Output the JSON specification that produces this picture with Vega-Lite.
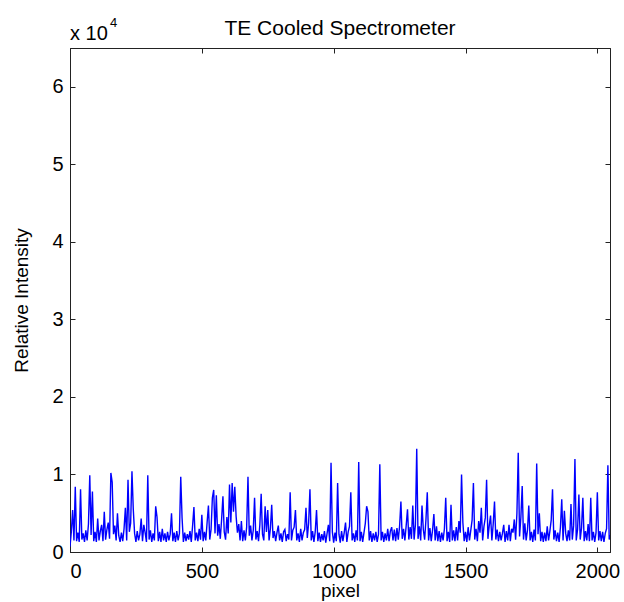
{
  "$schema": "https://vega.github.io/schema/vega-lite/v6.json",
  "width": 540,
  "height": 504,
  "autosize": {"type": "none"},
  "padding": {"left": 70, "top": 48, "right": 14, "bottom": 50},
  "background": "white",
  "config": {
    "view": {"stroke": "#222222", "strokeWidth": 1},
    "font": "Liberation Sans",
    "axis": {
      "domainColor": "#222222",
      "domainWidth": 1,
      "tickColor": "#222222",
      "tickWidth": 1,
      "tickSize": -5,
      "grid": false,
      "labelFont": "Liberation Sans",
      "labelFontSize": 20,
      "labelColor": "#000000",
      "titleFont": "Liberation Sans",
      "titleFontWeight": "normal",
      "titleColor": "#000000"
    }
  },
  "datasets": {
    "s": [
      {"p":0,"v":700},{"p":5,"v":2600},{"p":10,"v":5400},{"p":15,"v":1500},{"p":20,"v":8400},{"p":25,"v":1400},{"p":30,"v":2500},{"p":35,"v":1300},{"p":40,"v":8100},{"p":45,"v":1600},
      {"p":50,"v":2400},{"p":55,"v":1300},{"p":60,"v":2800},{"p":65,"v":1500},{"p":70,"v":3600},{"p":75,"v":9900},{"p":80,"v":2200},{"p":85,"v":7800},{"p":90,"v":1400},{"p":95,"v":2600},
      {"p":100,"v":1300},{"p":105,"v":4300},{"p":110,"v":1500},{"p":115,"v":2700},{"p":120,"v":3500},{"p":125,"v":1400},{"p":130,"v":5200},{"p":135,"v":1600},{"p":140,"v":2900},{"p":145,"v":3800},
      {"p":150,"v":1700},{"p":155,"v":10200},{"p":160,"v":9000},{"p":165,"v":2300},{"p":170,"v":3400},{"p":175,"v":1500},{"p":180,"v":5000},{"p":185,"v":2100},{"p":190,"v":1300},{"p":195,"v":2500},
      {"p":200,"v":1400},{"p":205,"v":3000},{"p":210,"v":5700},{"p":215,"v":1500},{"p":220,"v":9300},{"p":225,"v":2600},{"p":230,"v":3700},{"p":235,"v":10400},{"p":240,"v":5500},{"p":245,"v":2400},
      {"p":250,"v":1300},{"p":255,"v":2700},{"p":260,"v":1500},{"p":265,"v":2300},{"p":270,"v":4300},{"p":275,"v":1400},{"p":280,"v":3500},{"p":285,"v":2500},{"p":290,"v":1300},{"p":295,"v":9900},
      {"p":300,"v":1600},{"p":305,"v":2800},{"p":310,"v":1300},{"p":315,"v":2400},{"p":320,"v":1500},{"p":325,"v":5900},{"p":330,"v":4500},{"p":335,"v":1400},{"p":340,"v":2600},{"p":345,"v":1300},
      {"p":350,"v":3000},{"p":355,"v":1500},{"p":360,"v":2400},{"p":365,"v":1300},{"p":370,"v":2600},{"p":375,"v":1500},{"p":380,"v":2300},{"p":385,"v":5000},{"p":390,"v":1400},{"p":395,"v":2500},
      {"p":400,"v":1300},{"p":405,"v":2700},{"p":410,"v":1500},{"p":415,"v":2400},{"p":420,"v":9700},{"p":425,"v":4400},{"p":430,"v":1300},{"p":435,"v":2500},{"p":440,"v":1400},{"p":445,"v":2300},
      {"p":450,"v":1600},{"p":455,"v":2700},{"p":460,"v":1300},{"p":465,"v":3400},{"p":470,"v":5800},{"p":475,"v":1500},{"p":480,"v":2500},{"p":485,"v":1400},{"p":490,"v":3000},{"p":495,"v":1600},
      {"p":500,"v":4800},{"p":505,"v":1400},{"p":510,"v":2600},{"p":515,"v":1500},{"p":520,"v":3800},{"p":525,"v":6000},{"p":530,"v":1600},{"p":535,"v":2900},{"p":540,"v":7000},{"p":545,"v":8000},
      {"p":550,"v":2400},{"p":555,"v":7300},{"p":560,"v":2100},{"p":565,"v":3600},{"p":570,"v":1700},{"p":575,"v":4200},{"p":580,"v":7200},{"p":585,"v":2600},{"p":590,"v":1600},{"p":595,"v":4500},
      {"p":600,"v":2400},{"p":605,"v":8700},{"p":610,"v":3800},{"p":615,"v":8900},{"p":620,"v":5200},{"p":625,"v":8400},{"p":630,"v":4600},{"p":635,"v":2500},{"p":640,"v":3600},{"p":645,"v":1500},
      {"p":650,"v":4000},{"p":655,"v":1400},{"p":660,"v":2800},{"p":665,"v":1500},{"p":670,"v":3200},{"p":675,"v":9700},{"p":680,"v":2100},{"p":685,"v":3400},{"p":690,"v":1500},{"p":695,"v":2800},
      {"p":700,"v":7000},{"p":705,"v":1600},{"p":710,"v":2700},{"p":715,"v":1400},{"p":720,"v":3500},{"p":725,"v":7500},{"p":730,"v":2300},{"p":735,"v":1500},{"p":740,"v":5900},{"p":745,"v":2600},
      {"p":750,"v":5400},{"p":755,"v":1500},{"p":760,"v":3000},{"p":765,"v":6100},{"p":770,"v":1800},{"p":775,"v":2700},{"p":780,"v":1400},{"p":785,"v":2500},{"p":790,"v":3400},{"p":795,"v":1500},
      {"p":800,"v":2400},{"p":805,"v":1300},{"p":810,"v":2600},{"p":815,"v":2900},{"p":820,"v":1400},{"p":825,"v":2300},{"p":830,"v":1600},{"p":835,"v":7700},{"p":840,"v":1500},{"p":845,"v":2800},
      {"p":850,"v":3200},{"p":855,"v":5400},{"p":860,"v":1500},{"p":865,"v":2400},{"p":870,"v":1300},{"p":875,"v":3000},{"p":880,"v":1500},{"p":885,"v":2500},{"p":890,"v":2900},{"p":895,"v":5700},
      {"p":900,"v":1800},{"p":905,"v":3700},{"p":910,"v":8100},{"p":915,"v":1500},{"p":920,"v":2700},{"p":925,"v":1300},{"p":930,"v":2600},{"p":935,"v":5400},{"p":940,"v":1400},{"p":945,"v":2500},
      {"p":950,"v":1300},{"p":955,"v":2300},{"p":960,"v":1500},{"p":965,"v":2700},{"p":970,"v":1200},{"p":975,"v":2400},{"p":980,"v":3500},{"p":985,"v":1400},{"p":990,"v":11500},{"p":995,"v":2600},
      {"p":1000,"v":1200},{"p":1005,"v":2500},{"p":1010,"v":1400},{"p":1015,"v":8900},{"p":1020,"v":2300},{"p":1025,"v":1200},{"p":1030,"v":2700},{"p":1035,"v":1400},{"p":1040,"v":2500},{"p":1045,"v":3800},
      {"p":1050,"v":1300},{"p":1055,"v":2600},{"p":1060,"v":3300},{"p":1065,"v":7700},{"p":1070,"v":1500},{"p":1075,"v":2400},{"p":1080,"v":1300},{"p":1085,"v":2800},{"p":1090,"v":1500},{"p":1095,"v":11600},
      {"p":1100,"v":1400},{"p":1105,"v":2600},{"p":1110,"v":1300},{"p":1115,"v":2500},{"p":1120,"v":3700},{"p":1125,"v":5900},{"p":1130,"v":5200},{"p":1135,"v":1500},{"p":1140,"v":2700},{"p":1145,"v":1300},
      {"p":1150,"v":2400},{"p":1155,"v":1500},{"p":1160,"v":2600},{"p":1165,"v":1300},{"p":1170,"v":2300},{"p":1175,"v":11300},{"p":1180,"v":1500},{"p":1185,"v":2600},{"p":1190,"v":1300},{"p":1195,"v":2400},
      {"p":1200,"v":1500},{"p":1205,"v":3000},{"p":1210,"v":1400},{"p":1215,"v":2700},{"p":1220,"v":3200},{"p":1225,"v":1500},{"p":1230,"v":2900},{"p":1235,"v":1400},{"p":1240,"v":3100},{"p":1245,"v":1600},
      {"p":1250,"v":3300},{"p":1255,"v":6500},{"p":1260,"v":1700},{"p":1265,"v":3000},{"p":1270,"v":1500},{"p":1275,"v":3400},{"p":1280,"v":5500},{"p":1285,"v":1600},{"p":1290,"v":3200},{"p":1295,"v":1700},
      {"p":1300,"v":6000},{"p":1305,"v":1600},{"p":1310,"v":3500},{"p":1315,"v":13300},{"p":1320,"v":1700},{"p":1325,"v":3300},{"p":1330,"v":1500},{"p":1335,"v":6000},{"p":1340,"v":2900},{"p":1345,"v":1600},
      {"p":1350,"v":4200},{"p":1355,"v":7700},{"p":1360,"v":1500},{"p":1365,"v":3100},{"p":1370,"v":1400},{"p":1375,"v":2800},{"p":1380,"v":4900},{"p":1385,"v":1500},{"p":1390,"v":3300},{"p":1395,"v":1400},
      {"p":1400,"v":2700},{"p":1405,"v":1300},{"p":1410,"v":2500},{"p":1415,"v":1500},{"p":1420,"v":3000},{"p":1425,"v":7000},{"p":1430,"v":1400},{"p":1435,"v":2600},{"p":1440,"v":1300},{"p":1445,"v":6100},
      {"p":1450,"v":1500},{"p":1455,"v":2800},{"p":1460,"v":1400},{"p":1465,"v":3200},{"p":1470,"v":1500},{"p":1475,"v":4000},{"p":1480,"v":2500},{"p":1485,"v":10000},{"p":1490,"v":3800},{"p":1495,"v":1400},
      {"p":1500,"v":2600},{"p":1505,"v":1300},{"p":1510,"v":3200},{"p":1515,"v":1500},{"p":1520,"v":2800},{"p":1525,"v":4100},{"p":1530,"v":8900},{"p":1535,"v":1600},{"p":1540,"v":3000},{"p":1545,"v":1400},
      {"p":1550,"v":4000},{"p":1555,"v":2500},{"p":1560,"v":5700},{"p":1565,"v":1500},{"p":1570,"v":3300},{"p":1575,"v":4400},{"p":1580,"v":9300},{"p":1585,"v":1700},{"p":1590,"v":3400},{"p":1595,"v":4700},
      {"p":1600,"v":1500},{"p":1605,"v":3600},{"p":1610,"v":6500},{"p":1615,"v":1600},{"p":1620,"v":2900},{"p":1625,"v":1400},{"p":1630,"v":2600},{"p":1635,"v":1500},{"p":1640,"v":2400},{"p":1645,"v":3500},
      {"p":1650,"v":1300},{"p":1655,"v":2700},{"p":1660,"v":1500},{"p":1665,"v":3500},{"p":1670,"v":1400},{"p":1675,"v":3000},{"p":1680,"v":2500},{"p":1685,"v":4200},{"p":1690,"v":1600},{"p":1695,"v":5000},
      {"p":1700,"v":12800},{"p":1705,"v":2000},{"p":1710,"v":4500},{"p":1715,"v":8500},{"p":1720,"v":1600},{"p":1725,"v":3700},{"p":1730,"v":1500},{"p":1735,"v":2800},{"p":1740,"v":6000},{"p":1745,"v":1500},
      {"p":1750,"v":2600},{"p":1755,"v":1300},{"p":1760,"v":2900},{"p":1765,"v":1500},{"p":1770,"v":11400},{"p":1775,"v":2300},{"p":1780,"v":5000},{"p":1785,"v":1400},{"p":1790,"v":2600},{"p":1795,"v":1300},
      {"p":1800,"v":2500},{"p":1805,"v":1400},{"p":1810,"v":3300},{"p":1815,"v":1500},{"p":1820,"v":2700},{"p":1825,"v":4100},{"p":1830,"v":8100},{"p":1835,"v":1600},{"p":1840,"v":2800},{"p":1845,"v":1400},
      {"p":1850,"v":2500},{"p":1855,"v":1300},{"p":1860,"v":3200},{"p":1865,"v":6800},{"p":1870,"v":1500},{"p":1875,"v":5300},{"p":1880,"v":2400},{"p":1885,"v":1400},{"p":1890,"v":2800},{"p":1895,"v":1500},
      {"p":1900,"v":6200},{"p":1905,"v":1600},{"p":1910,"v":3400},{"p":1915,"v":12000},{"p":1920,"v":1500},{"p":1925,"v":2900},{"p":1930,"v":7400},{"p":1935,"v":1600},{"p":1940,"v":3100},{"p":1945,"v":7000},
      {"p":1950,"v":1400},{"p":1955,"v":2700},{"p":1960,"v":1500},{"p":1965,"v":3600},{"p":1970,"v":1400},{"p":1975,"v":7000},{"p":1980,"v":1500},{"p":1985,"v":2600},{"p":1990,"v":1300},{"p":1995,"v":2500},
      {"p":2000,"v":7700},{"p":2005,"v":1500},{"p":2010,"v":2700},{"p":2015,"v":1400},{"p":2020,"v":2600},{"p":2025,"v":1300},{"p":2030,"v":2400},{"p":2035,"v":3000},{"p":2040,"v":11200},{"p":2045,"v":1600},
      {"p":2048,"v":2200}
    ]
  },
  "layer": [
    {
      "data": {"name": "s"},
      "mark": {"type": "line", "color": "#0000ff", "strokeWidth": 1.4, "clip": true},
      "encoding": {
        "x": {
          "field": "p", "type": "quantitative",
          "scale": {"domain": [0, 2048], "nice": false, "zero": false},
          "axis": {"orient": "bottom", "values": [0, 500, 1000, 1500, 2000], "format": "d", "labelPadding": 14, "title": "pixel", "titleFontSize": 19, "titlePadding": 0}
        },
        "y": {
          "field": "v", "type": "quantitative",
          "scale": {"domain": [0, 65000], "nice": false},
          "axis": {"orient": "left", "values": [0, 10000, 20000, 30000, 40000, 50000, 60000], "labelExpr": "datum.value / 10000", "labelPadding": 12, "title": "Relative Intensity", "titleFontSize": 19, "titlePadding": 20}
        }
      }
    },
    {
      "data": {"name": "s"},
      "mark": {"type": "line", "opacity": 0},
      "encoding": {
        "x": {
          "field": "p", "type": "quantitative",
          "axis": {"orient": "top", "values": [0, 500, 1000, 1500, 2000], "labels": false, "title": null}
        },
        "y": {
          "field": "v", "type": "quantitative",
          "axis": {"orient": "right", "values": [0, 10000, 20000, 30000, 40000, 50000, 60000], "labels": false, "title": null}
        }
      }
    },
    {
      "data": {"values": [{"t": "TE Cooled Spectrometer"}]},
      "mark": {"type": "text", "align": "center", "baseline": "alphabetic", "fontSize": 21, "font": "Liberation Sans", "color": "#000000", "dy": -13, "clip": false},
      "encoding": {
        "x": {"datum": 1024, "type": "quantitative", "axis": null},
        "y": {"datum": 65000, "type": "quantitative", "axis": null},
        "text": {"field": "t"}
      }
    },
    {
      "data": {"values": [{"t": "x 10"}]},
      "mark": {"type": "text", "align": "left", "baseline": "alphabetic", "fontSize": 20, "font": "Liberation Sans", "color": "#000000", "dx": 0, "dy": -8, "clip": false},
      "encoding": {
        "x": {"datum": 0, "type": "quantitative", "axis": null},
        "y": {"datum": 65000, "type": "quantitative", "axis": null},
        "text": {"field": "t"}
      }
    },
    {
      "data": {"values": [{"t": "4"}]},
      "mark": {"type": "text", "align": "left", "baseline": "alphabetic", "fontSize": 13, "font": "Liberation Sans", "color": "#000000", "dx": 40, "dy": -21, "clip": false},
      "encoding": {
        "x": {"datum": 0, "type": "quantitative", "axis": null},
        "y": {"datum": 65000, "type": "quantitative", "axis": null},
        "text": {"field": "t"}
      }
    }
  ],
  "resolve": {"axis": {"x": "independent", "y": "independent"}}
}
